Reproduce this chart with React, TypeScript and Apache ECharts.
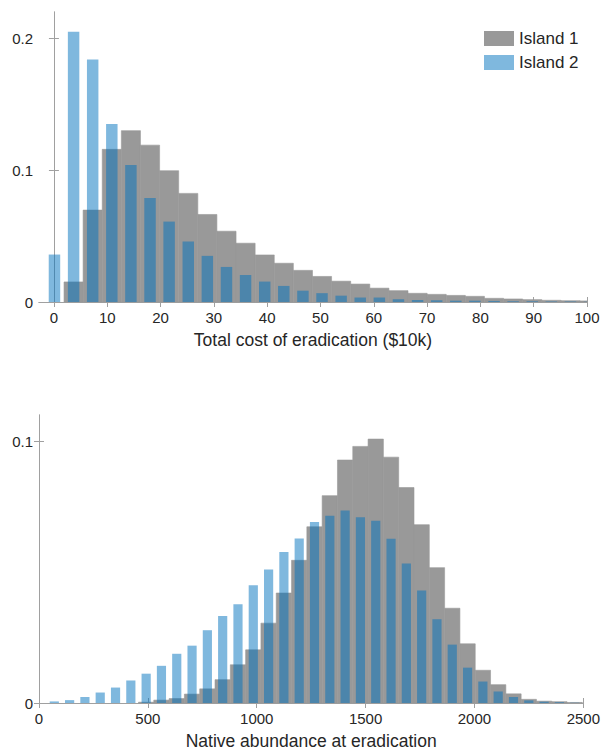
import React, { useEffect, useRef } from "react";
import * as echarts from "echarts";

// ---- Top panel: total cost of eradication ($10k)
const costBinWidth = 3.585;
const costCenters = [
  0.1, 3.69, 7.27, 10.86, 14.44, 18.03, 21.61, 25.2, 28.78, 32.37, 35.95, 39.54,
  43.12, 46.71, 50.29, 53.88, 57.46, 61.05, 64.63, 68.22, 71.8, 75.39, 78.97,
  82.56, 86.14, 89.73, 93.31, 96.9, 100.48,
];
const costIsland1 = [
  0, 0.0152, 0.0697, 0.1158, 0.13, 0.119, 0.0996, 0.0824, 0.0664, 0.0537, 0.0446,
  0.0357, 0.0294, 0.024, 0.0194, 0.0158, 0.0136, 0.0105, 0.0086, 0.0066, 0.0058,
  0.005, 0.0043, 0.0028, 0.0023, 0.0018, 0.0013, 0.001, 0.0008,
];
const costIsland2 = [
  0.036, 0.205, 0.184, 0.135, 0.104, 0.0789, 0.061, 0.0459, 0.035, 0.0266, 0.0205,
  0.0155, 0.0122, 0.0086, 0.0067, 0.0048, 0.0034, 0.0034, 0.0021, 0.0015, 0.0013,
  0.001, 0.001, 0.0008, 0.0006, 0.0005, 0.0004, 0.0003, 0.0002,
];
const costTicks = [0, 10, 20, 30, 40, 50, 60, 70, 80, 90, 100];
const costYTicks = [0, 0.1, 0.2];

// ---- Bottom panel: native abundance at eradication
const abundBinWidth = 70.3;
const abundCenters = [
  70.3, 140.6, 210.9, 281.2, 351.5, 421.8, 492.1, 562.4, 632.7, 703, 773.3, 843.6,
  913.9, 984.2, 1054.5, 1124.8, 1195.1, 1265.4, 1335.7, 1406, 1476.3, 1546.6,
  1616.9, 1687.2, 1757.5, 1827.8, 1898.1, 1968.4, 2038.7, 2109, 2179.3, 2249.6,
  2319.9, 2390.2, 2460.5,
];
const abundIsland1 = [
  0, 0, 0, 0, 0, 0, 0.0003, 0.0011, 0.0017, 0.0034, 0.0054, 0.0089, 0.0146, 0.0203,
  0.0305, 0.042, 0.0545, 0.0673, 0.0792, 0.0928, 0.098, 0.1008, 0.0939, 0.0823,
  0.0681, 0.0517, 0.0362, 0.0226, 0.0125, 0.007, 0.0035, 0.0014, 0.0007, 0.0005,
  0.0002,
];
const abundIsland2 = [
  0.0006, 0.0011, 0.0023, 0.004, 0.0059, 0.0086, 0.0112, 0.0142, 0.0188, 0.0219,
  0.0278, 0.0332, 0.0377, 0.045, 0.051, 0.0577, 0.0628, 0.0691, 0.0715, 0.0735,
  0.0709, 0.0696, 0.0627, 0.0533, 0.043, 0.032, 0.0223, 0.0135, 0.0082, 0.0044,
  0.0023, 0.001, 0.0005, 0.0003, 0.0001,
];
const abundTicks = [0, 500, 1000, 1500, 2000, 2500];
const abundYTicks = [0, 0.1];

const seriesNames = ["Island 1", "Island 2"];

const GRAY = "#999999";
const BLUE = "rgba(0,114,189,0.5)";
const AXIS = "#a0a0a0";
const TEXT = "#262626";
const FONT = "'Liberation Sans', Arial, Helvetica, sans-serif";

function makeRender(binW: number, frac: number, color: string, seamless: boolean) {
  return (params: any, api: any) => {
    const x = api.value(0);
    const v = api.value(1);
    const half = (binW * frac) / 2;
    const p0 = api.coord([x - half, v]);
    const p1 = api.coord([x + half, 0]);
    const cs = params.coordSys;
    const rect = echarts.graphic.clipRectByRect(
      { x: p0[0], y: p0[1], width: p1[0] - p0[0], height: p1[1] - p0[1] },
      { x: cs.x, y: cs.y, width: cs.width, height: cs.height }
    );
    if (!rect || rect.width <= 0 || rect.height <= 0) return null;
    const style: any = { fill: color };
    if (seamless) {
      style.stroke = color;
      style.lineWidth = 0.6;
    }
    return { type: "rect", shape: rect, style };
  };
}

function pairs(xs: number[], ys: number[]) {
  return xs.map((x, i) => [x, ys[i]]);
}

const plain = (v: number) => String(v);

export default function App() {
  const ref = useRef<HTMLDivElement>(null);
  useEffect(() => {
    if (!ref.current) return;
    const chart = echarts.init(ref.current, null, { renderer: "svg" });

    const labelStyle = { color: TEXT, fontSize: 15, fontFamily: FONT };
    const grids = [
      { left: 39, top: 12, width: 548, height: 290 },
      { left: 39, top: 415, width: 548, height: 290 },
    ];
    const mainX = (gi: number, min: number, max: number, ticks: number[], name: string) => ({
      type: "value",
      gridIndex: gi,
      min,
      max,
      name,
      nameLocation: "middle",
      nameGap: 29,
      nameTextStyle: { color: TEXT, fontSize: 17.5, fontFamily: FONT },
      axisLine: { show: true, lineStyle: { color: AXIS, width: 1 } },
      axisTick: { show: true, inside: true, length: 5, customValues: ticks, lineStyle: { color: AXIS } },
      axisLabel: { show: true, customValues: ticks, margin: 8, formatter: plain, ...labelStyle },
      splitLine: { show: false },
    });
    const topX = (gi: number, min: number, max: number, ticks: number[]) => ({
      type: "value",
      gridIndex: gi,
      position: "top",
      min,
      max,
      axisLine: { show: true, lineStyle: { color: AXIS, width: 1 } },
      axisTick: { show: true, inside: true, length: 5, customValues: ticks, lineStyle: { color: AXIS } },
      axisLabel: { show: false },
      splitLine: { show: false },
    });
    const mainY = (gi: number, max: number, ticks: number[]) => ({
      type: "value",
      gridIndex: gi,
      min: 0,
      max,
      axisLine: { show: true, lineStyle: { color: AXIS, width: 1 } },
      axisTick: { show: true, inside: true, length: 5, customValues: ticks, lineStyle: { color: AXIS } },
      axisLabel: { show: true, customValues: ticks, margin: 6, formatter: plain, ...labelStyle },
      splitLine: { show: false },
    });
    const rightY = (gi: number, max: number, ticks: number[]) => ({
      type: "value",
      gridIndex: gi,
      position: "right",
      min: 0,
      max,
      axisLine: { show: true, lineStyle: { color: AXIS, width: 1 } },
      axisTick: { show: true, inside: true, length: 5, customValues: ticks, lineStyle: { color: AXIS } },
      axisLabel: { show: false },
      splitLine: { show: false },
    });

    const option: any = {
      animation: false,
      backgroundColor: "#ffffff",
      textStyle: { fontFamily: FONT },
      grid: grids,
      legend: {
        data: seriesNames,
        orient: "vertical",
        left: 479,
        top: 25,
        itemWidth: 30,
        itemHeight: 15,
        itemGap: 7,
        icon: "rect",
        textStyle: { color: TEXT, fontSize: 17, fontFamily: FONT },
        selectedMode: false,
      },
      xAxis: [
        mainX(0, -2.8, 100, costTicks, "Total cost of eradication ($10k)"),
        topX(0, -2.8, 100, costTicks),
        mainX(1, 0, 2500, abundTicks, "Native abundance at eradication"),
        topX(1, 0, 2500, abundTicks),
      ],
      yAxis: [
        mainY(0, 0.22, costYTicks),
        rightY(0, 0.22, costYTicks),
        mainY(1, 0.11, abundYTicks),
        rightY(1, 0.11, abundYTicks),
      ],
      series: [
        {
          type: "custom",
          name: seriesNames[0],
          xAxisIndex: 0,
          yAxisIndex: 0,
          itemStyle: { color: GRAY },
          renderItem: makeRender(costBinWidth, 1, GRAY, true),
          data: pairs(costCenters, costIsland1),
          encode: { x: 0, y: 1 },
        },
        {
          type: "custom",
          name: seriesNames[1],
          xAxisIndex: 0,
          yAxisIndex: 0,
          itemStyle: { color: BLUE },
          renderItem: makeRender(costBinWidth, 0.6, BLUE, false),
          data: pairs(costCenters, costIsland2),
          encode: { x: 0, y: 1 },
        },
        {
          type: "custom",
          name: seriesNames[0],
          xAxisIndex: 2,
          yAxisIndex: 2,
          itemStyle: { color: GRAY },
          renderItem: makeRender(abundBinWidth, 1, GRAY, true),
          data: pairs(abundCenters, abundIsland1),
          encode: { x: 0, y: 1 },
        },
        {
          type: "custom",
          name: seriesNames[1],
          xAxisIndex: 2,
          yAxisIndex: 2,
          itemStyle: { color: BLUE },
          renderItem: makeRender(abundBinWidth, 0.6, BLUE, false),
          data: pairs(abundCenters, abundIsland2),
          encode: { x: 0, y: 1 },
        },
      ],
    };
    chart.setOption(option);
    return () => chart.dispose();
  }, []);

  return (
    <div
      ref={ref}
      style={{ position: "fixed", left: 0, top: 0, width: 603, height: 751, background: "#fff" }}
    />
  );
}
